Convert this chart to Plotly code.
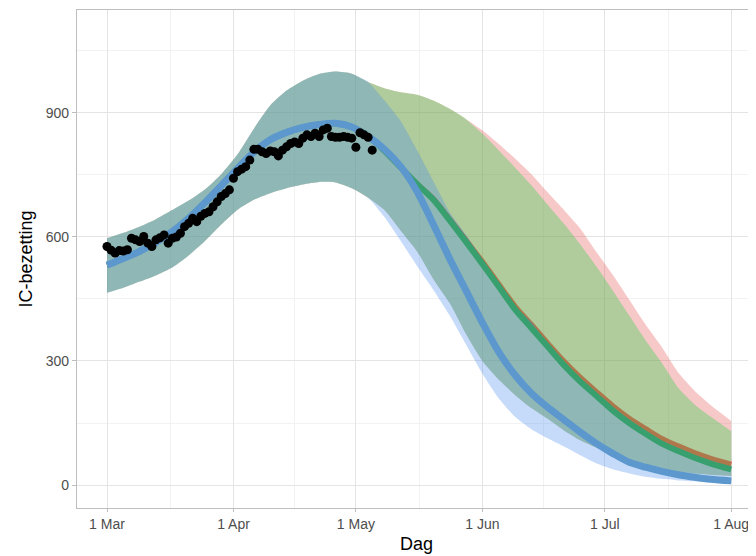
import datetime as dt
import plotly.graph_objects as go

# ---------------- data ----------------
start = dt.date(2020, 3, 1)

# observed IC occupancy, daily from 1 Mar to 5 May
obs_values = [577, 568, 561, 567, 566, 569, 597, 593, 589, 601, 585, 577,
              593, 598, 605, 585, 597, 600, 609, 625, 633, 645, 637, 650,
              657, 661, 673, 685, 698, 705, 714,
              742, 758, 764, 770, 786, 812, 812, 806, 802, 808, 806, 796,
              810, 818, 826, 830, 826, 839, 847, 843, 851, 843, 859, 863,
              843, 841, 841, 843, 841, 839,
              817, 852, 847, 841, 810]

# model grid (days after 1 Mar)
days_early = [0, 4, 8, 12, 16, 20, 24, 28, 32, 36, 40, 44, 48, 52, 56, 60]
days_late = [64, 68, 72, 76, 80, 84, 88, 92, 96, 100, 104, 108, 112, 116,
             120, 124, 128, 132, 136, 140, 144, 148, 153]

# shared fit before the scenarios split
early_line = [532, 548, 565, 587, 613, 645, 683, 724, 766, 805, 835, 853, 865, 872, 875, 866]
early_upper = [597, 610, 625, 643, 665, 688, 715, 752, 800, 862, 918, 954, 978, 994, 1000, 995]
early_lower = [465, 477, 492, 507, 526, 555, 590, 630, 666, 690, 706, 718, 727, 733, 732, 718]

# scenario tails
blue_line_late = [843, 812, 770, 710, 630, 547, 470, 393, 322, 266, 222, 188, 158, 128,
                  100, 76, 55, 43, 33, 25, 19, 14, 10]
blue_upper_late = [975, 930, 880, 810, 735, 660, 605, 545, 485, 432, 395, 340, 290, 255,
                   220, 185, 150, 125, 100, 82, 66, 52, 40]
blue_lower_late = [695, 648, 590, 530, 472, 410, 340, 270, 210, 165, 135, 113, 93, 72,
                   52, 38, 28, 20, 15, 11, 9, 7, 6]

green_line_late = [845, 808, 768, 728, 690, 640, 588, 535, 480, 425, 380, 335, 290, 250,
                   215, 180, 150, 124, 100, 82, 66, 52, 38]
green_upper_late = [975, 960, 950, 944, 930, 910, 885, 850, 810, 768, 725, 678, 632, 582,
                    528, 470, 410, 350, 295, 235, 195, 165, 130]
green_lower_late = [695, 665, 615, 565, 498, 440, 365, 300, 255, 218, 186, 160, 132, 108,
                    90, 75, 58, 47, 38, 32, 28, 25, 22]

red_line_late = [845, 808, 768, 728, 692, 643, 592, 540, 486, 432, 388, 343, 299, 260,
                 225, 191, 161, 136, 112, 94, 78, 64, 50]
red_upper_late = [975, 960, 950, 944, 930, 910, 885, 858, 825, 790, 752, 708, 665, 620,
                  563, 508, 448, 388, 333, 272, 228, 193, 155]
red_lower_late = green_lower_late

x_tick_dates = ["2020-03-01", "2020-04-01", "2020-05-01", "2020-06-01", "2020-07-01", "2020-08-01"]
x_tick_labels = ["1 Mar", "1 Apr", "1 May", "1 Jun", "1 Jul", "1 Aug"]
x_minor_dates = ["2020-03-16 12:00", "2020-04-16", "2020-05-16 12:00", "2020-06-16", "2020-07-16 12:00"]
y_ticks = [0, 300, 600, 900]
y_minor = [150, 450, 750, 1050]

# ---------------- build ----------------
obs_dates = [start + dt.timedelta(days=i) for i in range(len(obs_values))]
grid_dates = [start + dt.timedelta(days=d) for d in days_early + days_late]

scen = {
    "red": dict(line=early_line + red_line_late, up=early_upper + red_upper_late,
                lo=early_lower + red_lower_late,
                fill="rgba(228,72,72,0.30)", lcol="rgb(245,60,68)"),
    "green": dict(line=early_line + green_line_late, up=early_upper + green_upper_late,
                  lo=early_lower + green_lower_late,
                  fill="rgba(70,210,90,0.40)", lcol="rgb(55,160,110)"),
    "blue": dict(line=early_line + blue_line_late, up=early_upper + blue_upper_late,
                 lo=early_lower + blue_lower_late,
                 fill="rgba(66,136,238,0.30)", lcol="rgb(92,152,205)"),
}

fig = go.Figure()


def add_ribbon(s):
    fig.add_trace(go.Scatter(x=grid_dates, y=s["lo"], mode="lines",
                             line=dict(width=0, shape="spline", smoothing=0.6),
                             hoverinfo="skip", showlegend=False))
    fig.add_trace(go.Scatter(x=grid_dates, y=s["up"], mode="lines", fill="tonexty",
                             fillcolor=s["fill"],
                             line=dict(width=0, shape="spline", smoothing=0.6),
                             hoverinfo="skip", showlegend=False))


def add_curve(s, w):
    fig.add_trace(go.Scatter(x=grid_dates, y=s["line"], mode="lines",
                             line=dict(color=s["lcol"], width=w, shape="spline", smoothing=0.8),
                             showlegend=False))


add_ribbon(scen["red"])
add_curve(scen["red"], 5.5)
add_ribbon(scen["green"])
add_ribbon(scen["blue"])
add_curve(scen["green"], 6)
add_curve(scen["blue"], 7)
fig.add_trace(go.Scatter(x=obs_dates, y=obs_values, mode="markers",
                         marker=dict(color="black", size=9), showlegend=False))

grid_major = "rgb(228,228,228)"
grid_minor = "rgb(242,242,242)"
frame = "rgb(190,190,190)"

# the page adds an 8px body margin, so the figure is 8px smaller and shifted
fig.update_layout(
    width=748, height=548,
    margin=dict(l=69, r=0, t=2, b=48),
    paper_bgcolor="white", plot_bgcolor="white",
    font=dict(family="Liberation Sans, Arial, sans-serif"),
    xaxis=dict(
        type="date", automargin=False,
        range=["2020-02-22 15:30", "2020-08-07 01:40"],
        tickmode="array", tickvals=x_tick_dates, ticktext=x_tick_labels,
        showgrid=True, gridcolor=grid_major, gridwidth=1,
        minor=dict(tickmode="array", tickvals=x_minor_dates, showgrid=True,
                   gridcolor=grid_minor, gridwidth=0.8, ticks=""),
        showline=True, linecolor=frame, linewidth=1.2, mirror=True,
        ticks="outside", ticklen=3, tickcolor=frame,
        tickfont=dict(size=14, color="rgb(77,77,77)"),
        title=dict(text="Dag", font=dict(size=18, color="black"), standoff=6),
        zeroline=False,
    ),
    yaxis=dict(
        automargin=False,
        range=[-55.6, 1149],
        tickmode="array", tickvals=y_ticks,
        showgrid=True, gridcolor=grid_major, gridwidth=1,
        minor=dict(tickmode="array", tickvals=y_minor, showgrid=True,
                   gridcolor=grid_minor, gridwidth=0.8, ticks=""),
        showline=True, linecolor=frame, linewidth=1.2, mirror=False,
        ticks="outside", ticklen=4, tickcolor=frame,
        tickfont=dict(size=14, color="rgb(77,77,77)"),
        title=dict(text="IC-bezetting", font=dict(size=18, color="black"), standoff=8),
        zeroline=False,
    ),
)

fig.write_html("out.html")
